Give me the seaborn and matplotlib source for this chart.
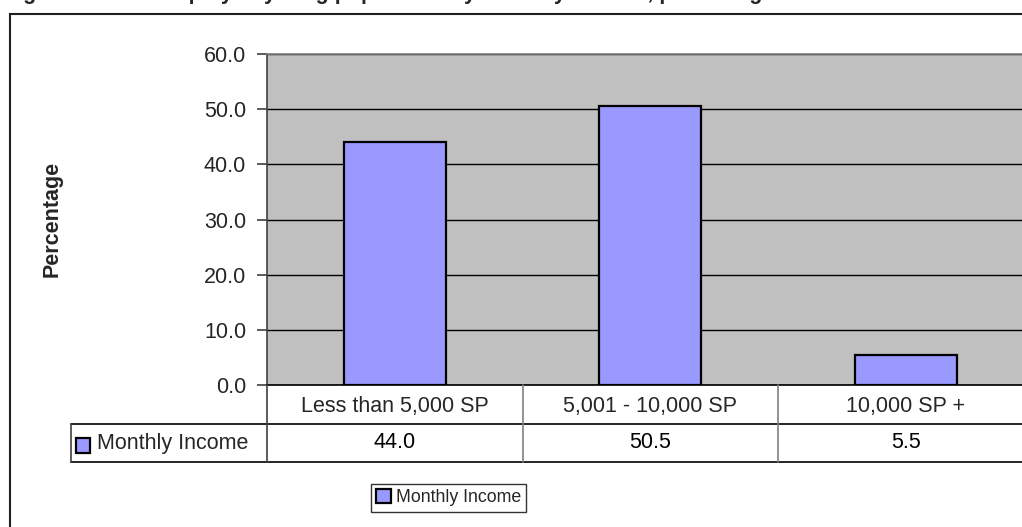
import matplotlib
matplotlib.use("Agg")
import matplotlib.pyplot as plt
import matplotlib.patches as mpatches
from matplotlib.lines import Line2D
import matplotlib.transforms as mtransforms
import seaborn as sns
import pandas as pd

# ---- data ----
categories = ["Less than 5,000 SP", "5,001 - 10,000 SP", "10,000 SP +"]
values = [44.0, 50.5, 5.5]
series_name = "Monthly Income"
y_ticks = [0, 10, 20, 30, 40, 50, 60]
title = "Figure 12: The employed young population by monthly income, percentage"
y_label = "Percentage"

sns.set_theme(style="white")
plt.rcParams["font.family"] = ["Liberation Sans", "DejaVu Sans"]

W, H = 1022, 527
fig = plt.figure(figsize=(W / 100, H / 100), dpi=100)
fig.patch.set_facecolor("white")

def fx(px):
    return px / W

def fy(py):
    return 1 - py / H

# plot area
left, right, top, bottom = 267, 1033.5, 54, 385
ax = fig.add_axes([fx(left), fy(bottom), (right - left) / W, (bottom - top) / H])
ax.set_facecolor("#C0C0C0")

df = pd.DataFrame({"cat": categories, "val": values})
sns.barplot(data=df, x="cat", y="val", color="#9999FF", edgecolor="black",
            linewidth=1.6, width=0.4, saturation=1, ax=ax, zorder=3)

ax.set_ylim(0, 60)
ax.set_xlim(-0.5, len(categories) - 0.5)
ax.set_yticks(y_ticks)
ax.set_yticklabels([f"{t:.1f}" for t in y_ticks], fontsize=15.5)
ax.yaxis.grid(True, color="black", linewidth=1.0, zorder=0)
ax.xaxis.grid(False)
ax.set_axisbelow(True)
ax.tick_params(axis="y", left=True, length=7, width=1.2, color="#404040", pad=8)
ax.tick_params(axis="x", bottom=False, length=0, pad=8, labelsize=15.5)
ax.set_xlabel("")
ax.set_ylabel("")
for s in ["top", "right"]:
    ax.spines[s].set_color("#808080")
    ax.spines[s].set_linewidth(1.2)
ax.spines["left"].set_color("#404040")
ax.spines["left"].set_linewidth(1.2)
ax.spines["bottom"].set_color("black")
ax.spines["bottom"].set_linewidth(1.2)
for s in ax.spines.values():
    s.set_visible(True)

# data table below the axes
blend = mtransforms.blended_transform_factory(ax.transData, fig.transFigure)
for i, v in enumerate(values):
    ax.text(i, fy(443), f"{v:.1f}", transform=blend, ha="center", va="center",
            fontsize=15.5, color="black", clip_on=False)

# table lines
def hline(y, x0, x1, color="black", lw=1.2):
    fig.add_artist(Line2D([fx(x0), fx(x1)], [fy(y), fy(y)], color=color, lw=lw,
                          transform=fig.transFigure))

def vline(x, y0, y1, color="#808080", lw=1.2):
    fig.add_artist(Line2D([fx(x), fx(x)], [fy(y0), fy(y1)], color=color, lw=lw,
                          transform=fig.transFigure))

hline(424, 70.7, W + 5)
hline(462, 70.7, W + 5)
vline(70.7, 424, 462, color="#404040")
vline(left, bottom, 462, color="#404040")
for b in range(1, len(categories)):
    xb = ax.transData.transform((b - 0.5, 0))[0]
    fig.add_artist(Line2D([xb / fig.dpi / fig.get_figwidth(), xb / fig.dpi / fig.get_figwidth()],
                          [fy(bottom), fy(462)], color="#808080", lw=1.2,
                          transform=fig.transFigure))

# legend key in table cell
fig.add_artist(mpatches.Rectangle((fx(76), fy(453)), fx(14), 15 / H,
                                  facecolor="#9999FF", edgecolor="black", lw=1.6,
                                  transform=fig.transFigure))
fig.text(fx(97), fy(443), series_name, ha="left", va="center", fontsize=15.5)

# y label
fig.text(fx(52), fy(218.5), y_label, rotation=90, ha="center", va="center",
         fontsize=15.5, fontweight="bold")

# legend
handle = mpatches.Patch(facecolor="#9999FF", edgecolor="black", lw=1.6, label=series_name)
leg = fig.legend(handles=[handle], loc="upper left",
                 bbox_to_anchor=(fx(371), fy(484)), bbox_transform=fig.transFigure,
                 fontsize=12.8, frameon=True, fancybox=False, borderpad=0.3,
                 handlelength=0.8, handleheight=0.8, handletextpad=0.3,
                 borderaxespad=0)
leg.get_frame().set_edgecolor("black")
leg.get_frame().set_linewidth(1.0)

# outer chart frame
fig.add_artist(mpatches.Rectangle((fx(10), fy(H + 20)), fx(W + 20), (H + 20 - 14) / H,
                                  facecolor="none", edgecolor="#202020", lw=1.5,
                                  transform=fig.transFigure, clip_on=False))

# title (cut off at the top of the image, as in the reference)
fig.text(fx(4), fy(-0.5), title, ha="left", va="baseline", fontsize=15.5,
         fontweight="bold")

fig.savefig("out.png", dpi=100)
